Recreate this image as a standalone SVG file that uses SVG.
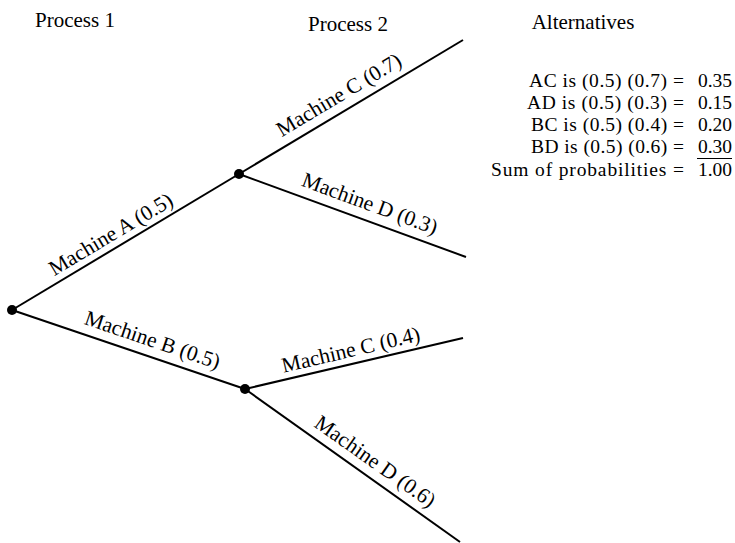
<svg xmlns="http://www.w3.org/2000/svg" width="735" height="543" viewBox="0 0 735 543">
<style>
text{font-family:"Liberation Serif","Times New Roman",serif;fill:#000}
.h{font-size:21px}
.lbl{font-size:21.5px;text-anchor:middle}
.t{font-size:19.5px;text-anchor:end}
.e{stroke:#000;stroke-width:2;fill:none}
.n{fill:#000}
</style>
<rect width="735" height="543" fill="#fff"/>
<g id="headers">
<text class="h" x="35" y="27">Process 1</text>
<text class="h" x="308" y="31">Process 2</text>
<text class="h" x="583" y="29" text-anchor="middle">Alternatives</text>
</g>
<g id="connectors">
<line class="e" x1="12" y1="310" x2="239" y2="174"/>
<line class="e" x1="12" y1="310" x2="245" y2="389"/>
<line class="e" x1="239" y1="174" x2="463" y2="40"/>
<line class="e" x1="239" y1="174" x2="466" y2="257"/>
<line class="e" x1="245" y1="389" x2="463" y2="338"/>
<line class="e" x1="245" y1="389" x2="460" y2="542"/>
<text class="lbl" transform="translate(118,246.3) rotate(-30.9)" y="-7">Machine A (0.5)</text>
<text class="lbl" transform="translate(147,356) rotate(18.7)" y="-10">Machine B (0.5)</text>
<text class="lbl" transform="translate(347.4,109) rotate(-30.9)" y="-9.5">Machine C (0.7)</text>
<text class="lbl" transform="translate(364,219.5) rotate(20.1)" y="-10">Machine D (0.3)</text>
<text class="lbl" transform="translate(354,363.5) rotate(-13.2)" y="-7">Machine C (0.4)</text>
<text class="lbl" transform="translate(366,474.5) rotate(35.3)" y="-9">Machine D (0.6)</text>
</g>
<g id="root"><circle class="n" cx="12" cy="310" r="5"/></g>
<g id="nodeA"><circle class="n" cx="239" cy="174" r="5"/></g>
<g id="nodeB"><circle class="n" cx="245" cy="389" r="5"/></g>
<g id="alternatives">
<text class="t" x="684" y="87" textLength="155">AC is (0.5) (0.7) =</text><text class="t" x="732" y="87">0.35</text>
<text class="t" x="684" y="109" textLength="157">AD is (0.5) (0.3) =</text><text class="t" x="732" y="109">0.15</text>
<text class="t" x="684" y="131" textLength="153">BC is (0.5) (0.4) =</text><text class="t" x="732" y="131">0.20</text>
<text class="t" x="684" y="153" textLength="153">BD is (0.5) (0.6) =</text><text class="t" x="732" y="153">0.30</text>
<line x1="697" y1="158.5" x2="732" y2="158.5" stroke="#000" stroke-width="1"/>
<text class="t" x="684" y="176" textLength="193">Sum of probabilities =</text><text class="t" x="732" y="176">1.00</text>
</g>
</svg>
